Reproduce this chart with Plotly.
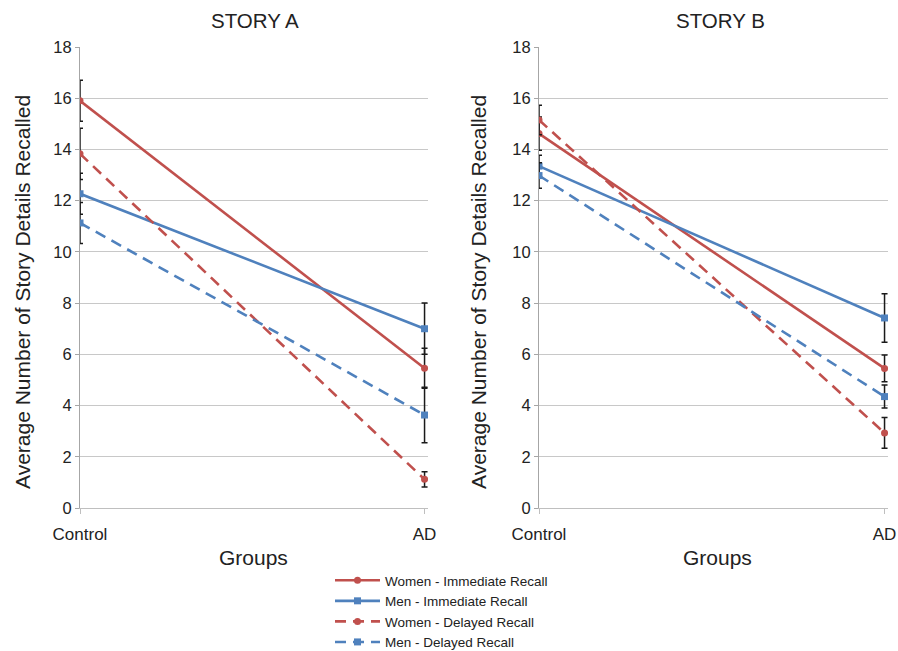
import plotly.graph_objects as go

groups = ["Control", "AD"]
y_ticks = [0, 2, 4, 6, 8, 10, 12, 14, 16, 18]
series_names = ["Women - Immediate Recall", "Men - Immediate Recall",
                "Women - Delayed Recall", "Men - Delayed Recall"]

# Story A
women_imm_a = [15.9, 5.46]
women_imm_a_err = [0.8, 0.78]
men_imm_a = [12.27, 7.0]
men_imm_a_err = [0.8, 1.0]
women_del_a = [13.83, 1.12]
women_del_a_err = [1.0, 0.3]
men_del_a = [11.13, 3.63]
men_del_a_err = [0.8, 1.08]

# Story B
women_imm_b = [14.62, 5.45]
women_imm_b_err = [0.65, 0.52]
men_imm_b = [13.35, 7.42]
men_imm_b_err = [0.42, 0.95]
women_del_b = [15.15, 2.93]
women_del_b_err = [0.58, 0.6]
men_del_b = [12.98, 4.35]
men_del_b_err = [0.5, 0.45]

RED = "#C0504D"
BLUE = "#4F81BD"
FONT = "Liberation Sans, Arial, sans-serif"

styles = [
    dict(color=RED, dash="solid", symbol="circle"),
    dict(color=BLUE, dash="solid", symbol="square"),
    dict(color=RED, dash="11px,7px", symbol="circle"),
    dict(color=BLUE, dash="11px,7px", symbol="square"),
]

story_a = [(women_imm_a, women_imm_a_err), (men_imm_a, men_imm_a_err),
           (women_del_a, women_del_a_err), (men_del_a, men_del_a_err)]
story_b = [(women_imm_b, women_imm_b_err), (men_imm_b, men_imm_b_err),
           (women_del_b, women_del_b_err), (men_del_b, men_del_b_err)]

fig = go.Figure()

for panel, (data, xa, ya) in enumerate([(story_a, "x", "y"), (story_b, "x2", "y2")]):
    for i, (vals, errs) in enumerate(data):
        st = styles[i]
        fig.add_trace(go.Scatter(
            x=groups, y=vals, xaxis=xa, yaxis=ya,
            mode="lines+markers",
            name=series_names[i],
            showlegend=(panel == 0),
            line=dict(color=st["color"], width=2.6, dash=st["dash"]),
            marker=dict(color=st["color"], symbol=st["symbol"], size=7),
            error_y=dict(type="data", array=errs, visible=True,
                         color="#1a1a1a", thickness=1.5, width=3),
        ))

ydom = [1 - 508 / 651, 1 - 47 / 651]
common_x = dict(type="category", range=[0, 1.01], showgrid=False,
                showline=True, linecolor="#BFBFBF", linewidth=1,
                ticks="outside", ticklen=5, tickcolor="#BFBFBF",
                ticklabelstandoff=6,
                tickfont=dict(family=FONT, size=17, color="#222"),
                zeroline=False, fixedrange=True, automargin=False)
common_y = dict(range=[0, 18], tickvals=y_ticks, showgrid=True,
                gridcolor="#C8C8C8", gridwidth=1,
                showline=True, linecolor="#A6A6A6", linewidth=1,
                ticks="outside", ticklen=4, tickcolor="#A6A6A6",
                tickfont=dict(family=FONT, size=16.5, color="#222"),
                zeroline=False, fixedrange=True, automargin=False)

fig.update_layout(
    width=898, height=651,
    margin=dict(l=0, r=0, t=0, b=0, autoexpand=False),
    paper_bgcolor="white", plot_bgcolor="white",
    xaxis=dict(domain=[80 / 898, 428 / 898], anchor="y", **common_x),
    yaxis=dict(domain=ydom, anchor="x", **common_y),
    xaxis2=dict(domain=[539 / 898, 888 / 898], anchor="y2", **common_x),
    yaxis2=dict(domain=ydom, anchor="x2", **common_y),
    legend=dict(x=330 / 898, y=1 - 565 / 651, xanchor="left", yanchor="top",
                font=dict(family=FONT, size=13.5, color="#222"),
                itemwidth=45,
                bgcolor="rgba(0,0,0,0)", tracegroupgap=0),
    showlegend=True,
)

annotations = [
    dict(text="STORY A", x=255 / 898, y=1 - 20 / 651, font=dict(size=20.5)),
    dict(text="STORY B", x=720 / 898, y=1 - 20 / 651, font=dict(size=20.5)),
    dict(text="Groups", x=253 / 898, y=1 - 557 / 651, font=dict(size=21)),
    dict(text="Groups", x=717 / 898, y=1 - 557 / 651, font=dict(size=21)),
    dict(text="Average Number of Story Details Recalled", x=22 / 898,
         y=1 - 292 / 651, textangle=-90, font=dict(size=21)),
    dict(text="Average Number of Story Details Recalled", x=478 / 898,
         y=1 - 292 / 651, textangle=-90, font=dict(size=21)),
]
for a in annotations:
    a.update(xref="paper", yref="paper", showarrow=False,
             xanchor="center", yanchor="middle")
    a["font"].update(family=FONT, color="#222")
fig.update_layout(annotations=annotations)

fig.write_html("out.html",
               config={"displayModeBar": False},
               post_script="document.body.style.margin='0px';"
                           "document.body.style.overflow='hidden';")
